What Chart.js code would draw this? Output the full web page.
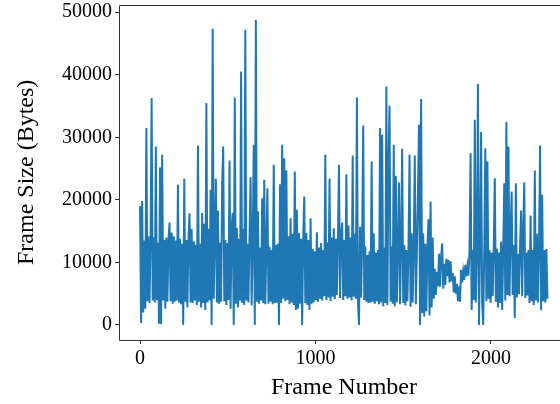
<!DOCTYPE html>
<html><head><meta charset="utf-8">
<script src="https://cdn.jsdelivr.net/npm/chart.js@4/dist/chart.umd.min.js"></script>
<style>
html,body{margin:0;padding:0;background:#fff;overflow:hidden;width:560px;height:404px}
#wrap{width:570px;height:404px}
</style></head>
<body><div id="wrap"><canvas id="c" width="570" height="404"></canvas></div>
<script>
const FRAME_STEP = 6;
const frameSizes = [
19000,300,19800,2000,13500,2600,31470,3800,14200,3500,
13800,36270,3900,14000,3600,28530,4000,13200,200,25170,
100,27200,3900,13600,2600,14000,3700,13400,16370,3800,
14800,3400,14200,3700,13500,3900,22400,3600,13800,3300,
13000,0,23360,3700,13600,2800,14000,17870,3600,15360,
3500,13400,3900,12800,3200,28700,3700,13000,2800,17900,
3500,16200,2400,35470,3600,15400,3900,21600,0,47360,
4200,13800,23360,3600,18300,3400,13200,3700,22400,28530,
3800,13600,3200,13100,4000,26300,2600,15500,17900,0,
36370,3400,15500,2800,13800,3900,40530,3500,15400,3200,
47200,3900,13000,3600,14200,23630,3100,12800,28800,0,
48800,3700,18130,3400,12400,3900,20270,3500,23200,3300,
12600,21870,3400,12500,3700,12000,3300,25600,3500,12800,
3600,13000,0,22500,3500,28800,4200,26670,3800,24700,
4000,14200,3300,17070,3600,14600,3200,24530,2400,18400,
2600,14700,3400,13800,0,14000,20530,3500,14700,3200,
13600,2400,17070,3400,12200,3600,11800,4000,14830,3700,
12400,4200,13100,3900,12000,4600,27200,4000,13200,4400,
23360,3800,14000,4500,15470,4100,13800,4800,14200,25600,
4300,14400,16370,4000,13600,4600,24100,4200,15900,4400,
14000,3900,27100,4500,14600,4200,36370,3800,0,15700,
4400,13600,31900,4000,12600,3700,11200,3500,11800,3600,
26130,3700,14670,3400,11600,3800,12000,3300,31470,3600,
30400,3000,12400,3500,38130,3200,25870,35040,3700,12600,
3400,28800,3000,23840,3600,12200,22770,3300,12800,28160,
3500,12800,3100,12000,3800,11800,27200,2900,14670,3600,
12400,27100,3300,12000,21170,32000,0,36110,1900,14670,
1350,13000,2200,12400,16900,1500,19730,2800,14000,4200,
9000,4800,8500,6200,11400,6100,10800,13070,5800,9800,
6400,10600,7800,10400,6800,10200,7000,8300,5200,7800,
5000,6600,3800,6200,3700,8800,6800,8600,7200,9600,
7800,9400,7900,12000,27470,2400,12000,4000,32800,3600,
11800,38510,0,12400,30830,3400,0,12000,28270,3800,
26130,4200,12000,3500,11600,4600,12400,23470,3700,12200,
2800,11600,3500,13330,2400,12000,22670,3900,32430,4800,
28530,4600,14800,21330,4800,12800,1100,22670,4400,11400,
4900,12600,18300,4600,14800,22830,4300,11600,4700,12000,
3500,17500,3800,12000,3200,24700,3900,14600,3600,12400,
28700,2400,20800,3800,12000,3600,12200,4200
];
const frameNumbers = frameSizes.map((_, i) => i * FRAME_STEP);
const xTickValues = [0, 1000, 2000];
const yTickValues = [0, 10000, 20000, 30000, 40000, 50000];
const xAxisTitle = 'Frame Number';
const yAxisTitle = 'Frame Size (Bytes)';

const points = frameNumbers.map((f, i) => ({x: f, y: frameSizes[i]}));
const FONT = "'Liberation Serif', 'Times New Roman', serif";

const spines = {
  id: 'spines',
  afterDatasetsDraw(chart) {
    const {ctx, chartArea: a} = chart;
    ctx.save();
    ctx.strokeStyle = '#333';
    ctx.lineWidth = 1;
    ctx.beginPath();
    ctx.moveTo(Math.round(a.left) + 0.5, Math.round(a.top) + 0.5);
    ctx.lineTo(Math.round(a.left) + 0.5, Math.round(a.bottom) + 0.5);
    ctx.lineTo(Math.round(a.right) + 0.5, Math.round(a.bottom) + 0.5);
    ctx.lineTo(Math.round(a.right) + 0.5, Math.round(a.top) + 0.5);
    ctx.closePath();
    ctx.stroke();
    ctx.restore();
  }
};

new Chart(document.getElementById('c'), {
  type: 'line',
  data: {
    datasets: [{
      data: points,
      borderColor: '#1f77b4',
      borderWidth: 2,
      pointRadius: 0,
      fill: false,
      tension: 0
    }]
  },
  options: {
    responsive: false,
    animation: false,
    events: [],
    layout: {padding: {top: 4.7, right: 1, left: 0, bottom: 0}},
    plugins: {legend: {display: false}, tooltip: {enabled: false}},
    scales: {
      x: {
        type: 'linear',
        min: -120, max: 2445,
        afterBuildTicks: s => { s.ticks = xTickValues.map(v => ({value: v})); },
        afterFit: s => { s.height = 64; s.paddingLeft = 0; s.paddingRight = 0; },
        grid: {drawOnChartArea: false, drawTicks: true, tickLength: 4, color: '#333', lineWidth: 1},
        border: {display: false},
        ticks: {color: '#000', padding: 3, font: {family: FONT, size: 20}, maxRotation: 0,
                callback: v => String(v)},
        title: {display: true, text: xAxisTitle, color: '#000', font: {family: FONT, size: 24},
                padding: {top: 0, bottom: 2}}
      },
      y: {
        type: 'linear',
        min: -2400, max: 51200,
        afterBuildTicks: s => { s.ticks = yTickValues.map(v => ({value: v})); },
        afterFit: s => { s.width = 119; s.paddingTop = 0; s.paddingBottom = 0; },
        grid: {drawOnChartArea: false, drawTicks: true, tickLength: 4, color: '#333', lineWidth: 1},
        border: {display: false},
        ticks: {color: '#000', padding: 3, font: {family: FONT, size: 20},
                callback: v => String(v)},
        title: {display: true, text: yAxisTitle, color: '#000', font: {family: FONT, size: 24},
                padding: {top: 12, bottom: 0}}
      }
    }
  },
  plugins: [spines]
});
</script>
</body></html>
